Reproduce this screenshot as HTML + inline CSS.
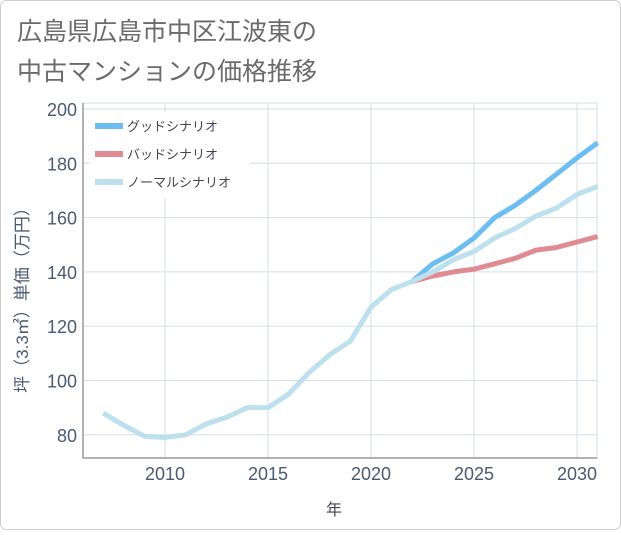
<!DOCTYPE html>
<html><head><meta charset="utf-8"><style>
body{margin:0;background:#fff;font-family:"Liberation Sans","Noto Sans CJK JP",sans-serif;}
#wrap{position:relative;width:621px;height:530px;}
</style></head><body>
<div id="wrap">
<svg id="chart" width="621" height="530" xmlns="http://www.w3.org/2000/svg">
<rect x="0.5" y="0.5" width="620" height="529" rx="6" fill="#fff" stroke="#ccc"/>
<text x="17" y="40" font-size="25" fill="#6b6b6b" font-family="Liberation Sans, Noto Sans CJK JP, sans-serif">広島県広島市中区江波東の</text>
<text x="17" y="80" font-size="25" fill="#6b6b6b" font-family="Liberation Sans, Noto Sans CJK JP, sans-serif">中古マンションの価格推移</text>
<g id="grid"></g>
<g id="series"></g>
<g id="legend"></g>
<text x="334" y="515" font-size="16" fill="#445" text-anchor="middle" font-family="Liberation Sans, Noto Sans CJK JP, sans-serif">年</text>
<text transform="translate(28,296) rotate(-90)" font-size="17" fill="#4a5a70" text-anchor="middle" font-family="Liberation Sans, Noto Sans CJK JP, sans-serif">坪（3.3㎡）単価（万円）</text>
</svg>
</div>
<script>
const years=[2007,2008,2009,2010,2011,2012,2013,2014,2015,2016,2017,2018,2019,2020,2021,2022];
const history=[88,83.5,79.5,79,80,84,86.5,90,90,95,103,109.5,114.5,127,133.5,136.5];
const futureYears=[2022,2023,2024,2025,2026,2027,2028,2029,2030,2031];
const good=[136.5,143,147,152.5,160,164.5,170,176,182,187.5];
const bad=[136.5,138.5,140,141,143,145,148,149,151,153];
const normal=[136.5,140,144.5,147.5,152.5,156,160.5,163.5,168.5,171.5];
const yTicks=[80,100,120,140,160,180,200];
const xTicks=[2010,2015,2020,2025,2030];

const NS="http://www.w3.org/2000/svg";
const L=83,R=597,T=103,B=458;
function xs(v){return 165+(v-2010)*20.6;}
function ys(v){return 109+(200-v)*2.715;}
function mk(tag,attrs,parent){const e=document.createElementNS(NS,tag);for(const k in attrs)e.setAttribute(k,attrs[k]);parent.appendChild(e);return e;}
const grid=document.getElementById('grid');
yTicks.forEach(v=>{
  const l=mk('line',{x1:L,x2:R,y1:ys(v),y2:ys(v),stroke:'#d5dfe9','stroke-width':1},grid);
  
  
  const t=mk('text',{x:L-6,y:ys(v)+7,'font-size':18,fill:'#4a5a70','text-anchor':'end'},grid);
  t.textContent=v;
  
  
});
xTicks.forEach(v=>{
  const l=mk('line',{x1:xs(v),x2:xs(v),y1:T,y2:B,stroke:'#d5dfe9','stroke-width':1},grid);
  
  
  const t=mk('text',{x:xs(v),y:B+22,'font-size':18,fill:'#4a5a70','text-anchor':'middle'},grid);
  t.textContent=v;
  
  
});
const frame=mk('rect',{x:L,y:T,width:R-L,height:B-T,fill:'none',stroke:'#d5dfe9'},grid);


const ax=mk('path',{d:`M${L},${T} V${B} H${R}`,fill:'none',stroke:'#999','stroke-width':1.5},grid);



const sg=document.getElementById('series');
function line(xv,yv,color,name){
  const d=xv.map((x,i)=>(i?'L':'M')+xs(x).toFixed(1)+','+ys(yv[i]).toFixed(1)).join(' ');
  const p=mk('path',{d:d,fill:'none',stroke:color,'stroke-width':5,'stroke-linejoin':'round'},sg);
  
  
}
line(futureYears,good,'#6bbdf2','good-scenario-line');
line(futureYears,bad,'#e08a92','bad-scenario-line');
line(futureYears,normal,'#bde0ef','normal-scenario-line');
line(years,history,'#bde0ef','history-line');

const lg=document.getElementById('legend');
const lbg=mk('rect',{x:90,y:112,width:160,height:86,fill:'#fff'},lg);


[['グッドシナリオ','#6bbdf2'],['バッドシナリオ','#e08a92'],['ノーマルシナリオ','#bde0ef']].forEach((e,i)=>{
  const y=126+i*28;
  const s=mk('line',{x1:95,x2:123,y1:y,y2:y,stroke:e[1],'stroke-width':6},lg);
  
  
  const t=mk('text',{x:127,y:y+5,'font-size':13,fill:'#445'},lg);
  t.textContent=e[0];
  
  
});
</script>
</body></html>
